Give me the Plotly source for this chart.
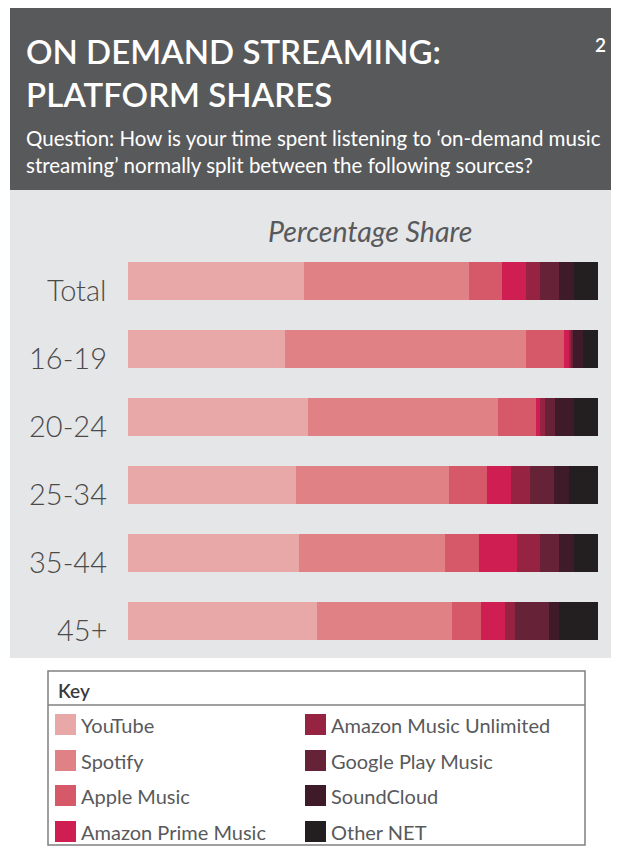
import plotly.graph_objects as go

W, H = 621, 855

categories = ["Total", "16-19", "20-24", "25-34", "35-44", "45+"]
platforms = ["YouTube", "Spotify", "Apple Music", "Amazon Prime Music",
             "Amazon Music Unlimited", "Google Play Music", "SoundCloud", "Other NET"]
colors = ["#E9A8A8", "#E08186", "#D6596A", "#CF1F52",
          "#972343", "#662237", "#3F1A28", "#231F20"]

youtube = [37.5, 33.4, 38.3, 35.7, 36.4, 40.2]
spotify = [35.1, 51.3, 40.4, 32.6, 31.1, 28.7]
apple_music = [7.0, 8.1, 8.1, 8.1, 7.2, 6.2]
amazon_prime = [5.1, 1.1, 0.9, 5.1, 8.1, 5.1]
amazon_unlimited = [3.0, 0.3, 1.1, 4.0, 4.9, 2.1]
google_play = [4.0, 0.5, 2.1, 5.1, 4.0, 7.2]
soundcloud = [3.2, 2.1, 4.0, 3.2, 3.2, 2.1]
other_net = [5.1, 3.2, 5.1, 6.2, 5.1, 8.4]

series = [youtube, spotify, apple_music, amazon_prime,
          amazon_unlimited, google_play, soundcloud, other_net]

FONT = "Lato"
DARK = "#58595B"


def px(x):
    return x / W


def py(y):
    return 1 - y / H


fig = go.Figure()
for name, vals, col in zip(platforms, series, colors):
    fig.add_trace(go.Bar(
        y=categories, x=vals, name=name, orientation="h",
        marker=dict(color=col, line=dict(width=0)),
        showlegend=False, hoverinfo="x+name",
    ))

shapes = [
    dict(type="rect", xref="paper", yref="paper", x0=px(10), x1=px(611),
         y0=py(190), y1=py(8), fillcolor=DARK, line=dict(width=0), layer="below"),
    dict(type="rect", xref="paper", yref="paper", x0=px(10), x1=px(611),
         y0=py(658), y1=py(190), fillcolor="#E5E6E8", line=dict(width=0), layer="below"),
    dict(type="rect", xref="paper", yref="paper", x0=px(48), x1=px(585),
         y0=py(845), y1=py(671), fillcolor="rgba(0,0,0,0)",
         line=dict(color="#808080", width=1.5)),
    dict(type="line", xref="paper", yref="paper", x0=px(48), x1=px(585),
         y0=py(705), y1=py(705), line=dict(color="#808080", width=1.5)),
]


def note(text, x, y, size, color, xanchor="left", yanchor="middle", align="left",
         weight="normal"):
    return dict(text=text, x=px(x), y=py(y), xref="paper", yref="paper",
                xanchor=xanchor, yanchor=yanchor, showarrow=False, align=align,
                font=dict(family=FONT, size=size, color=color, weight=weight))


annotations = [
    note("ON DEMAND STREAMING:<br>PLATFORM SHARES", 24, 29, 33, "white",
         yanchor="top", weight=600),
    note("2", 608, 45, 19, "white", xanchor="right", weight=600),
    note("Question: How is your time spent listening to \u2018on-demand music<br>"
         "streaming\u2019 normally split between the following sources?",
         24, 124, 20.5, "white", yanchor="top"),
    note("<i>Percentage Share</i>", 370, 231, 28.5, DARK, xanchor="center"),
    note("Key", 56, 690, 19, "#3a3a3a", weight=600),
]

# category labels placed next to each bar (slightly below bar centre, as in the original)
for cat in categories:
    annotations.append(dict(text=cat, x=px(109), y=cat, xref="paper", yref="y",
                            xanchor="right", yanchor="middle", yshift=-8,
                            showarrow=False,
                            font=dict(family=FONT, size=29, color="#4a4a4a",
                                      weight=300)))

# legend drawn as swatches + labels in two columns
row_y = [724, 760, 795, 831]
for i, (name, col) in enumerate(zip(platforms, colors)):
    colx = 55 if i < 4 else 305
    ry = row_y[i % 4]
    shapes.append(dict(type="rect", xref="paper", yref="paper",
                       x0=px(colx), x1=px(colx + 21), y0=py(ry + 11), y1=py(ry - 10),
                       fillcolor=col, line=dict(width=0)))
    annotations.append(note(name, colx + 24, ry + 1, 20, DARK))

fig.update_layout(
    width=W, height=H, barmode="stack", bargap=0.44,
    margin=dict(l=0, r=0, t=0, b=0),
    paper_bgcolor="white", plot_bgcolor="rgba(0,0,0,0)",
    shapes=shapes, annotations=annotations,
    xaxis=dict(domain=[px(128), px(598)], range=[0, 100], visible=False,
               fixedrange=True),
    yaxis=dict(domain=[py(655), py(247)], autorange="reversed",
               showgrid=False, zeroline=False, showline=False, ticks="",
               showticklabels=False, fixedrange=True),
)

fig.write_html("out.html", config={"displayModeBar": False},
               post_script="document.body.style.margin='0';")
